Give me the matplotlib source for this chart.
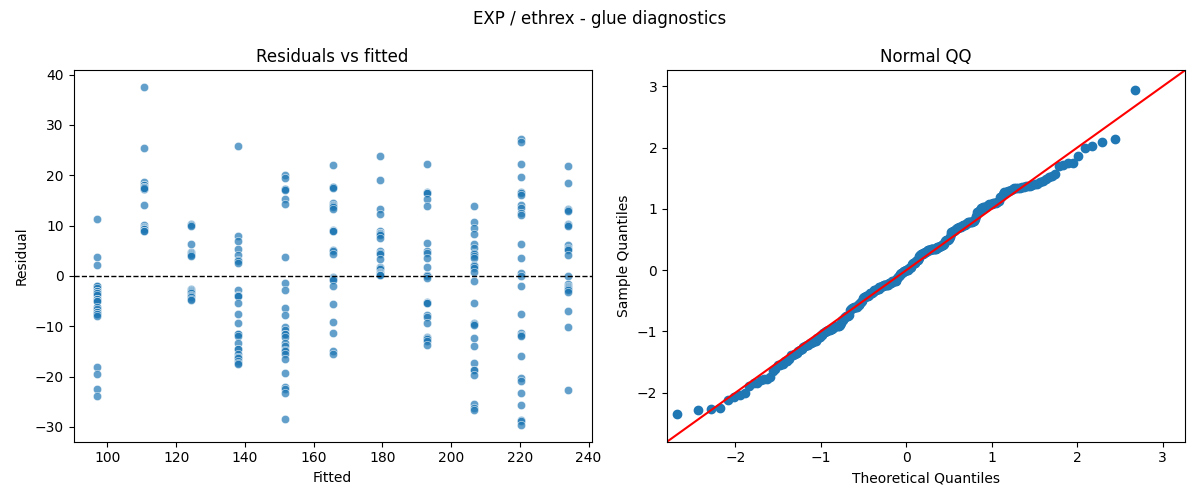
import numpy as np
import pandas as pd
import matplotlib
matplotlib.use("Agg")
import matplotlib.pyplot as plt
import seaborn as sns
from statistics import NormalDist

# fitted levels (one column of residuals per level)
fitted_levels = [97.0, 110.7, 124.4, 138.1, 151.8, 165.5, 179.2, 192.9, 206.6, 220.3, 234.0]

# residuals, per fitted level (overlapping markers repeated)
res_097 = [11.3, 3.8, 2.2, -2.1, -2.1, -2.5, -3.0, -3.0, -3.4, -3.4, -3.8, -4.6, -4.6,
           -5.0, -5.0, -6.2, -6.6, -7.2, -7.2, -7.6, -7.6, -8.0, -18.2, -19.5, -22.5, -23.9]
res_111 = [37.5, 25.4, 18.6, 18.0, 18.0, 17.6, 17.6, 17.2, 17.2, 17.4, 14.1, 10.2, 9.8,
           9.6, 9.4, 9.4, 9.0, 8.9]
res_124 = [10.4, 10.2, 10.0, 6.3, 4.7, 4.6, 4.4, 4.2, 3.9, -2.6, -2.8, -3.0, -3.2, -3.4,
           -3.7, -3.9, -4.2, -4.5, -4.7]
res_138 = [25.8, 8.0, 7.0, 5.4, 4.2, 3.2, 3.0, 2.6, -2.9, -3.7, -3.9, -3.9, -5.4, -7.6,
           -9.4, -11.5, -11.6, -12.0, -13.3, -14.5, -14.5, -15.5, -16.2, -16.4, -17.0,
           -17.4, -17.5]
res_152 = [20.0, 19.4, 17.2, 17.2, 17.0, 15.3, 14.2, 3.7, -1.4, -2.9, -6.4, -7.8, -10.2,
           -10.8, -11.5, -11.5, -12.2, -13.3, -14.0, -14.8, -15.0, -15.6, -16.6, -19.3,
           -22.0, -22.4, -23.3, -28.5]
res_166 = [22.0, 17.7, 17.6, 17.4, 14.4, 14.0, 13.8, 13.6, 13.2, 9.2, 9.0, 8.9, 5.2, 5.0,
           4.4, -0.2, -0.5, -0.7, -0.9, -2.1, -5.6, -9.2, -11.4, -15.0, -15.5]
res_179 = [23.8, 19.0, 13.3, 12.4, 9.0, 8.6, 8.5, 8.3, 8.1, 7.6, 5.0, 4.6, 4.3, 3.4, 1.8,
           1.5, 1.3, 0.8, 0.5, 0.3, 0.2, 0.1]
res_193 = [22.3, 16.6, 16.5, 16.4, 15.3, 13.9, 6.6, 5.0, 4.6, 3.5, 1.7, 0.1, 0.0, -0.5,
           -5.2, -5.3, -5.4, -7.7, -8.2, -9.3, -12.2, -12.4, -12.6, -13.0, -13.7]
res_207 = [13.9, 10.7, 9.5, 8.3, 6.4, 5.6, 4.6, 4.4, 4.0, 3.6, 2.2, 2.0, 1.5, 0.7, -1.1,
           -5.3, -9.4, -9.5, -9.8, -12.4, -13.9, -17.3, -18.7, -18.8, -19.6, -25.4,
           -26.2, -26.7]
res_220 = [27.2, 26.6, 22.3, 19.6, 16.7, 16.4, 16.0, 14.0, 13.5, 12.6, 12.2, 6.3, 3.5,
           0.5, 0.0, -2.1, -7.5, -11.3, -11.8, -12.0, -15.9, -20.3, -20.8, -23.3, -25.7,
           -28.6, -28.9, -29.6]
res_234 = [21.8, 18.4, 13.3, 13.1, 12.9, 10.3, 10.1, 10.0, 6.1, 5.6, 5.4, 5.1, 4.2, -0.1,
           -1.6, -2.0, -2.2, -2.4, -2.6, -2.9, -3.2, -6.9, -10.2, -22.7]

residual_groups = [res_097, res_111, res_124, res_138, res_152, res_166,
                   res_179, res_193, res_207, res_220, res_234]

rows = []
for f, grp in zip(fitted_levels, residual_groups):
    for r in grp:
        rows.append((f, r))
df = pd.DataFrame(rows, columns=["fitted", "resid"])

fig, axes = plt.subplots(1, 2, figsize=(12, 5))

# residuals vs fitted
ax = axes[0]
sns.scatterplot(data=df, x="fitted", y="resid", alpha=0.7, ax=ax)
ax.axhline(0, color="black", linestyle="--", linewidth=1)
ax.set_title("Residuals vs fitted")
ax.set_xlabel("Fitted")
ax.set_ylabel("Residual")

# normal QQ (standardised residuals, 45 degree line)
ax = axes[1]
resid = np.sort(df["resid"].to_numpy())
n = len(resid)
pos = np.arange(1, n + 1) / (n + 1)
nd = NormalDist()
theo = np.array([nd.inv_cdf(p) for p in pos])
sample = (resid - resid.mean()) / resid.std()
ax.plot(theo, sample, "o", color="#1f77b4")
lims = (-2.8, 3.26)
ax.plot(lims, lims, color="red")
ax.set_xlim(lims)
ax.set_ylim(lims)
ax.set_title("Normal QQ")
ax.set_xlabel("Theoretical Quantiles")
ax.set_ylabel("Sample Quantiles")

fig.suptitle("EXP / ethrex - glue diagnostics")
plt.tight_layout()
plt.savefig("out.png", dpi=100)
plt.close()
